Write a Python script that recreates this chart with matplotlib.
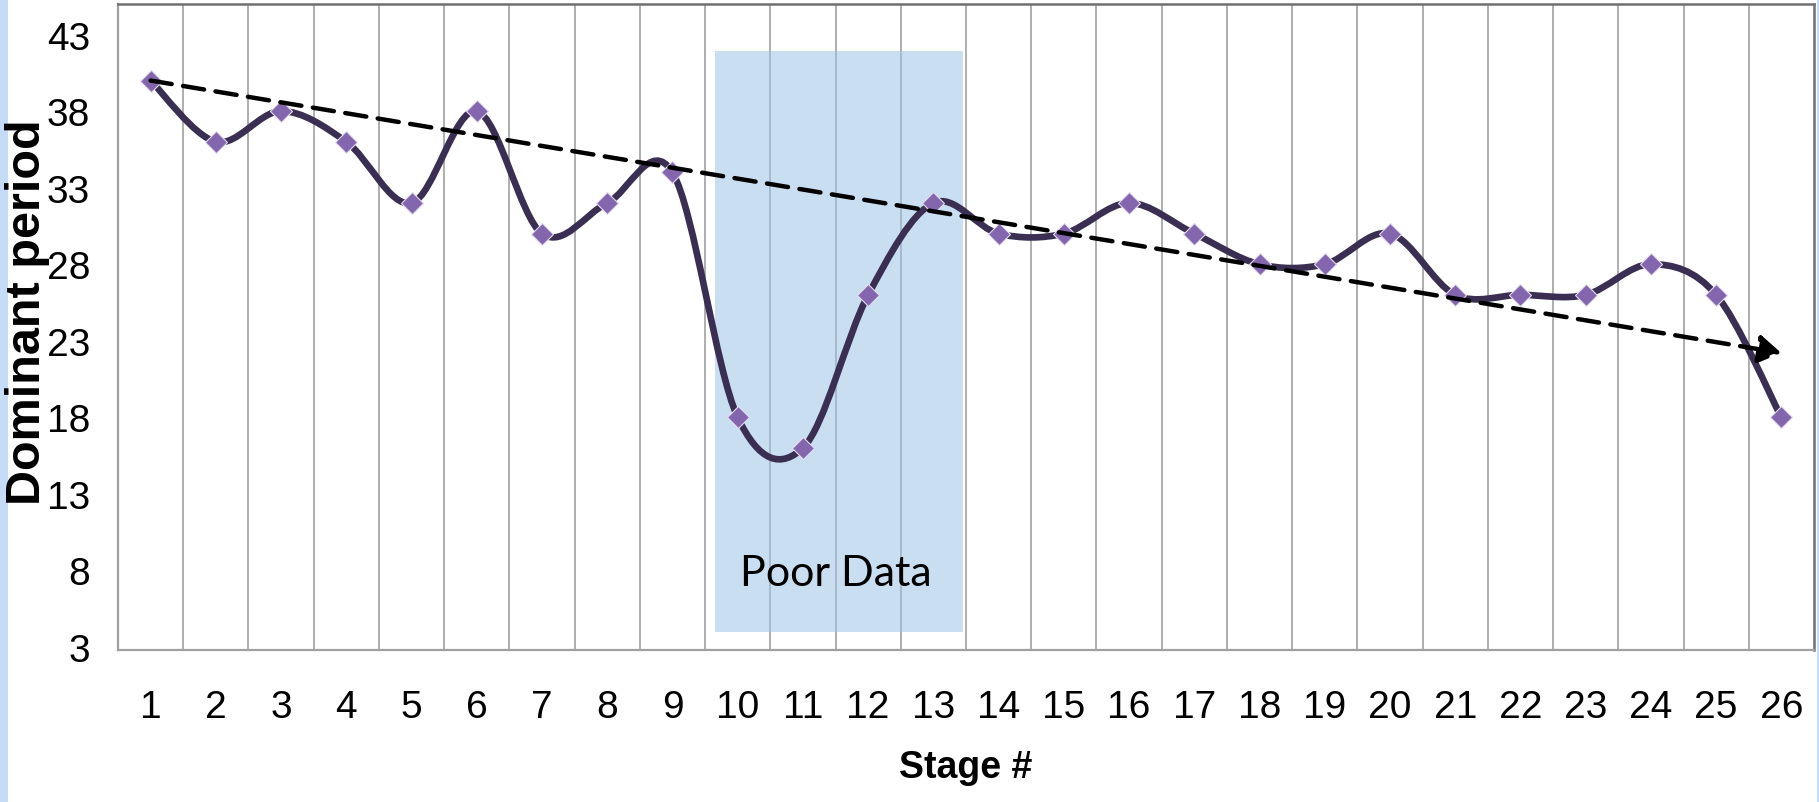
import numpy as np
import matplotlib
matplotlib.use("Agg")
import matplotlib.pyplot as plt
from matplotlib.path import Path
from matplotlib.patches import PathPatch, Rectangle

# data
stages = list(range(1, 27))
period = [40, 36, 38, 36, 32, 38, 30, 32, 34, 18, 16, 26, 32,
          30, 30, 32, 30, 28, 28, 30, 26, 26, 26, 28, 26, 18]
y_ticks = [3, 8, 13, 18, 23, 28, 33, 38, 43]
trend_start = (1, 40.0)
trend_end = (26, 22.2)
poor_x = (9.65, 13.45)
poor_y = (4.0, 41.9)

W, H = 1819, 803
TICK_FONT = ["Liberation Sans", "DejaVu Sans"]


def smooth_path(xs, ys):
    """Excel-style smoothed line: Catmull-Rom tangents as cubic Bezier segments."""
    pts = np.column_stack([xs, ys]).astype(float)
    ext = np.vstack([pts[0], pts, pts[-1]])
    verts, codes = [tuple(pts[0])], [Path.MOVETO]
    for i in range(len(pts) - 1):
        p0, p1, p2, p3 = ext[i], ext[i + 1], ext[i + 2], ext[i + 3]
        c1 = p1 + (p2 - p0) / 6.0
        c2 = p2 - (p3 - p1) / 6.0
        verts += [tuple(c1), tuple(c2), tuple(p2)]
        codes += [Path.CURVE4] * 3
    return Path(verts, codes)


fig = plt.figure(figsize=(W / 100, H / 100), dpi=100)
ax = fig.add_axes([118 / W, 1 - 651 / H, (1814 - 118) / W, 646 / H])
ax.set_xlim(0.5, 26.5)
ax.set_ylim(2.8, 45)

# category boundaries as vertical gridlines
ax.set_xticks(np.arange(1.5, 26.5, 1), minor=True)
ax.grid(which="minor", axis="x", color="#a8a8a8", lw=1.3, zorder=0)
ax.set_axisbelow(True)

ax.add_patch(Rectangle((poor_x[0], poor_y[0]), poor_x[1] - poor_x[0], poor_y[1] - poor_y[0],
                       facecolor="#9dc3e6", alpha=0.55, lw=0, zorder=1))
ax.text(sum(poor_x) / 2 - 0.04, 7.8, "Poor Data", ha="center", va="center",
        fontsize=31, family=["Lato", "DejaVu Sans"], color="black", zorder=2)

ax.add_patch(PathPatch(smooth_path(stages, period), facecolor="none",
                       edgecolor="#3a2f52", lw=4.8, capstyle="round", zorder=3))
ax.plot(stages, period, ls="none", marker="D", ms=11.5, mfc="#8366ad",
        mec="#e4dcf0", mew=0.8, zorder=4)

ax.annotate("", xy=trend_end, xytext=trend_start,
            arrowprops=dict(arrowstyle="-|>,head_length=0.8,head_width=0.5",
                            ls=(0, (4.8, 2.6)), lw=3.2, color="black",
                            mutation_scale=17, shrinkA=0, shrinkB=0),
            zorder=5)

ax.set_xticks(stages)
ax.set_xticklabels([str(s) for s in stages], family=TICK_FONT, fontsize=28)
ax.set_yticks(y_ticks)
ax.set_yticklabels([str(v) for v in y_ticks], family=TICK_FONT, fontsize=28)
ax.tick_params(axis="both", which="both", length=0)
ax.tick_params(axis="x", pad=28)
ax.tick_params(axis="y", pad=20)

for side in ("left", "bottom"):
    ax.spines[side].set_color("#a0a0a0")
    ax.spines[side].set_linewidth(1.6)
for side in ("top", "right"):
    ax.spines[side].set_color("#707070")
    ax.spines[side].set_linewidth(1.8)

ax.set_xlabel("Stage #", fontsize=27, fontweight="bold", family=TICK_FONT)
ax.xaxis.set_label_coords(0.5, -0.153)
fig.text(28 / W, 1 - 312 / H, "Dominant period", rotation=90, ha="center", va="center",
         fontsize=35, fontweight="bold", family=TICK_FONT)

# slide-background strips at both edges
fig.patches.append(Rectangle((0, 0), 8 / W, 1, transform=fig.transFigure,
                             facecolor="#c6dbf7", lw=0, zorder=-1))
fig.patches.append(Rectangle((1 - 2 / W, 0), 2 / W, 1, transform=fig.transFigure,
                             facecolor="#c6dbf7", lw=0, zorder=-1))

fig.savefig("out.png", dpi=100)
